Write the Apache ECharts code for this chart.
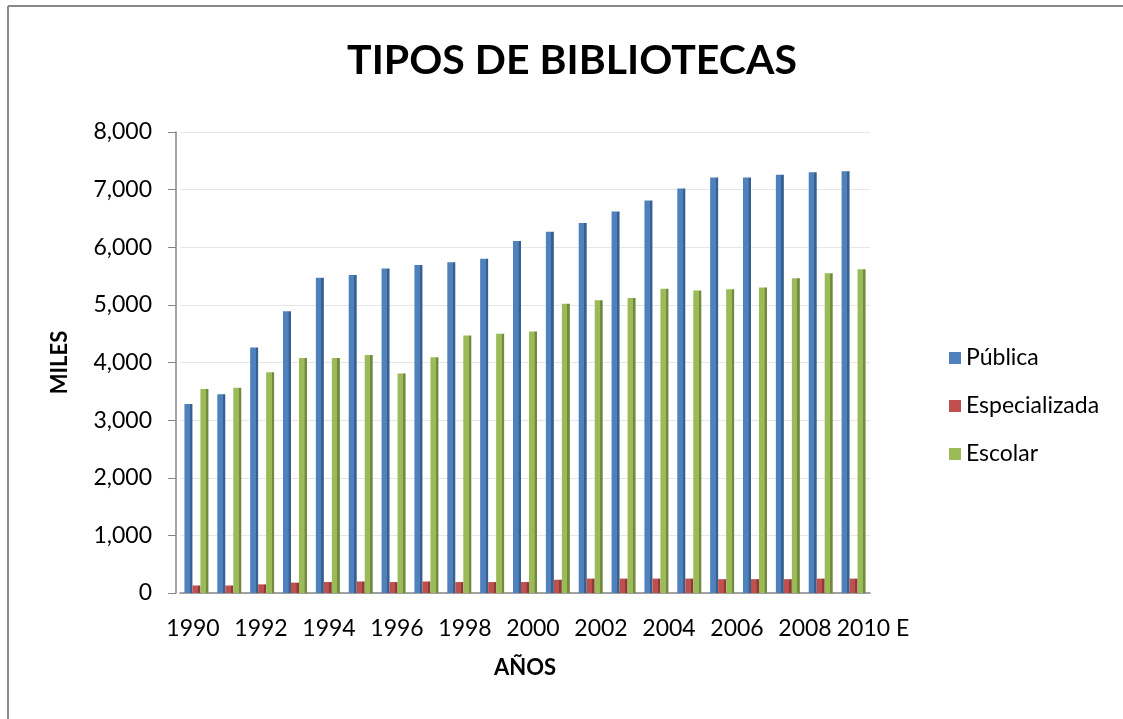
<!DOCTYPE html>
<html lang="es">
<head>
    <meta charset="UTF-8">
    <title>Tipos de bibliotecas</title>
    <script src="https://cdn.jsdelivr.net/npm/echarts@6/dist/echarts.min.js"></script>
    <style>
        html, body { margin: 0; padding: 0; background: #fff; }
        #chart { width: 1123px; height: 719px; }
    </style>
</head>
<body>
    <div id="chart"></div>
    <script>
        // años (el último es estimado)
        var years = ['1990', '1991', '1992', '1993', '1994', '1995', '1996', '1997', '1998', '1999', '2000',
            '2001', '2002', '2003', '2004', '2005', '2006', '2007', '2008', '2009', '2010 E'];
        // miles de bibliotecas
        var publica = [3280, 3450, 4260, 4890, 5470, 5520, 5630, 5690, 5740, 5800, 6110,
            6270, 6420, 6620, 6810, 7020, 7210, 7210, 7260, 7300, 7320];
        var especializada = [130, 130, 150, 180, 190, 200, 190, 200, 190, 190, 190,
            230, 250, 250, 250, 250, 240, 240, 240, 250, 250];
        var escolar = [3540, 3560, 3830, 4080, 4080, 4130, 3810, 4090, 4470, 4500, 4540,
            5020, 5080, 5120, 5280, 5250, 5270, 5300, 5460, 5550, 5620];
        // Excel solo rotula un año de cada dos
        var etiquetas = years.filter(function (y, i) { return i % 2 == 0; });

        var fuente = 'Lato, "Noto Sans", sans-serif';

        // cara frontal + lateral oscura, como las barras 3D de Excel
        function barra(c1, c2) {
            return new echarts.graphic.LinearGradient(0, 0, 1, 0, [
                { offset: 0, color: c1 },
                { offset: 0.68, color: c1 },
                { offset: 0.7, color: c2 },
                { offset: 1, color: c2 }
            ]);
        }

        var myChart = echarts.init(document.getElementById('chart'));
        myChart.setOption({
            animation: false,
            title: {
                text: 'TIPOS DE BIBLIOTECAS',
                left: 567,
                top: 35,
                textAlign: 'center',
                textStyle: { fontFamily: fuente, fontSize: 41, fontWeight: 'bold', color: '#000' }
            },
            graphic: [
                { type: 'line', shape: { x1: 8, y1: 6, x2: 1123, y2: 6 }, style: { stroke: '#8a8a8a', lineWidth: 2 } },
                { type: 'line', shape: { x1: 8, y1: 6, x2: 8, y2: 719 }, style: { stroke: '#8a8a8a', lineWidth: 2 } }
            ],
            legend: {
                orient: 'vertical',
                left: 944,
                top: 341,
                itemWidth: 12,
                itemHeight: 12,
                itemGap: 24,
                icon: 'rect',
                textStyle: { fontFamily: fuente, fontSize: 23, color: '#000', lineHeight: 24 },
                data: [
                    { name: 'Pública', itemStyle: { color: '#4F81BD' } },
                    { name: 'Especializada', itemStyle: { color: '#C0504D' } },
                    { name: 'Escolar', itemStyle: { color: '#9BBB59' } }
                ]
            },
            grid: [
                { left: 180, right: 253, top: 132, bottom: 126 },
                // solo para las etiquetas de los años
                { left: 159, width: 748, top: 132, bottom: 126 }
            ],
            xAxis: [
                {
                    type: 'category',
                    data: years,
                    name: 'AÑOS',
                    nameLocation: 'middle',
                    nameGap: 64,
                    nameTextStyle: { fontFamily: fuente, fontSize: 22, fontWeight: 'bold', color: '#000' },
                    axisLine: { lineStyle: { color: '#868686', width: 1.5 } },
                    axisTick: { show: false },
                    axisLabel: { show: false }
                },
                {
                    type: 'category',
                    gridIndex: 1,
                    data: etiquetas,
                    axisLine: { show: false },
                    axisTick: { show: false },
                    axisLabel: { interval: 0, margin: 24, fontFamily: fuente, fontSize: 23, color: '#000' }
                }
            ],
            yAxis: [
                {
                    type: 'value',
                    min: 0,
                    max: 8000,
                    interval: 1000,
                    offset: 4,
                    name: 'MILES',
                    nameLocation: 'middle',
                    nameGap: 105,
                    nameRotate: 90,
                    nameTextStyle: { fontFamily: fuente, fontSize: 22, fontWeight: 'bold', color: '#000' },
                    axisLine: { show: true, lineStyle: { color: '#868686', width: 1.5 } },
                    axisTick: { show: true, length: 8, lineStyle: { color: '#868686' } },
                    splitLine: { lineStyle: { color: '#e6e6e6' } },
                    axisLabel: {
                        margin: 24,
                        fontFamily: fuente,
                        fontSize: 23,
                        color: '#000',
                        formatter: function (v) { return v.toLocaleString('en-US'); }
                    }
                },
                { type: 'value', gridIndex: 1, show: false }
            ],
            series: [
                {
                    name: 'Pública',
                    type: 'bar',
                    data: publica,
                    barWidth: 8,
                    barGap: 0,
                    itemStyle: { color: barra('#4F81BD', '#37608F') }
                },
                {
                    name: 'Especializada',
                    type: 'bar',
                    data: especializada,
                    barWidth: 8,
                    itemStyle: { color: barra('#C0504D', '#8E3A38') }
                },
                {
                    name: 'Escolar',
                    type: 'bar',
                    data: escolar,
                    barWidth: 8,
                    itemStyle: { color: barra('#9BBB59', '#718A3F') }
                }
            ]
        });
    </script>
</body>
</html>
